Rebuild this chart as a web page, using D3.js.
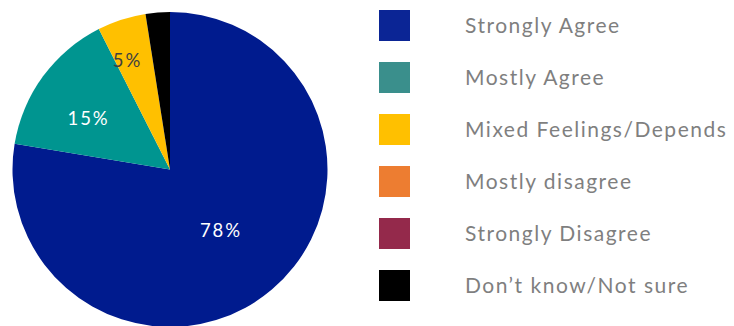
<!DOCTYPE html>
<html>
<head>
<meta charset="utf-8">
<script src="https://cdn.jsdelivr.net/npm/d3@7/dist/d3.min.js"></script>
<style>
  html, body { margin: 0; padding: 0; background: #fff; }
  svg { display: block; }
</style>
</head>
<body>
<svg id="chart" width="734" height="326"></svg>
<script>
// Survey responses (share of respondents, %)
const categories = ["Strongly Agree", "Mostly Agree", "Mixed Feelings/Depends", "Mostly disagree", "Strongly Disagree", "Don\u2019t know/Not sure"];
const values = [78, 15, 5, 0, 0, 2.5];
const labels = ["78%", "15%", "5%", "", "", ""];

const sliceColors = ["#001B8E", "#009590", "#FFC000", "#ED7D31", "#94294B", "#000000"];
const legendColors = ["#0B2595", "#3A8F8C", "#FFC000", "#ED7D31", "#94294B", "#000000"];
const labelColors = ["#ffffff", "#ffffff", "#404040", "#ffffff", "#ffffff", "#ffffff"];
// label placement: radius as a fraction of the pie radius, and a small angular nudge (degrees)
const labelRadius = [0.505, 0.609, 0.74, 0.7, 0.7, 0.7];
const labelNudge = [0.4, -4.4, -3.4, 0, 0, 0];

const svg = d3.select("#chart");
const cx = 170, cy = 169.5, r = 157.5;

const pie = d3.pie().sort(null).value(d => d.v);
const arcs = pie(categories.map((c, i) => ({ c, v: values[i], i })));
const arc = d3.arc().innerRadius(0).outerRadius(r);

const g = svg.append("g").attr("transform", `translate(${cx},${cy})`);
g.selectAll("path.slice")
  .data(arcs.filter(a => a.data.v > 0))
  .join("path")
  .attr("class", "slice")
  .attr("d", arc)
  .attr("fill", a => sliceColors[a.data.i]);

g.selectAll("text.val")
  .data(arcs.filter(a => labels[a.data.i]))
  .join("text")
  .attr("class", "val")
  .attr("transform", a => {
    const i = a.data.i;
    const ang = (a.startAngle + a.endAngle) / 2 + labelNudge[i] * Math.PI / 180;
    const k = labelRadius[i] * r;
    return `translate(${k * Math.sin(ang)},${-k * Math.cos(ang)})`;
  })
  .attr("text-anchor", "middle")
  .attr("dy", "0.35em")
  .attr("font-family", "Lato, 'DejaVu Sans', sans-serif")
  .attr("font-size", 18.5)
  .attr("letter-spacing", 2)
  .attr("fill", a => labelColors[a.data.i])
  .text(a => labels[a.data.i]);

// Legend
const legendY = d3.scalePoint().domain(d3.range(categories.length)).range([10, 270]);
const lg = svg.append("g");
const rows = lg.selectAll("g.row")
  .data(categories)
  .join("g")
  .attr("class", "row")
  .attr("transform", (d, i) => `translate(379,${legendY(i)})`);
rows.append("rect")
  .attr("width", 31).attr("height", 31)
  .attr("fill", (d, i) => legendColors[i]);
rows.append("text")
  .attr("x", 86).attr("y", 23)
  .attr("font-family", "Lato, 'DejaVu Sans', sans-serif")
  .attr("font-size", 21)
  .attr("letter-spacing", 1.5)
  .attr("fill", "#7F7F7F")
  .text(d => d);
</script>
</body>
</html>
